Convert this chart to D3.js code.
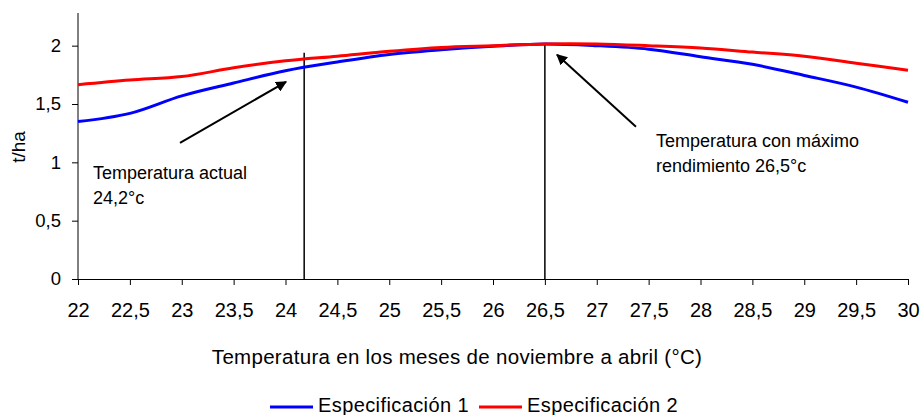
<!DOCTYPE html>
<html>
<head>
<meta charset="utf-8">
<script src="https://cdn.jsdelivr.net/npm/d3@7"></script>
<style>
  html, body { margin: 0; padding: 0; background: #fff; }
  svg { display: block; font-family: "Liberation Sans", Arial, sans-serif; }
</style>
</head>
<body>
<svg id="chart" width="924" height="415"></svg>
<script>
// ---- data ----
const temps = [22, 22.5, 23, 23.5, 24, 24.5, 25, 25.5, 26, 26.5, 27, 27.5, 28, 28.5, 29, 29.5, 30];
const spec1 = [1.35, 1.42, 1.57, 1.68, 1.785, 1.86, 1.925, 1.965, 1.995, 2.015, 2.0, 1.97, 1.905, 1.84, 1.745, 1.645, 1.515];
const spec2 = [1.665, 1.705, 1.735, 1.81, 1.87, 1.91, 1.952, 1.985, 2.0, 2.015, 2.015, 2.0, 1.98, 1.945, 1.91, 1.85, 1.79];
const seriesNames = ["Especificación 1", "Especificación 2"];
const seriesColors = ["#0000FF", "#FF0000"];
const yTicks = [0, 0.5, 1, 1.5, 2];
const xTicks = [22, 22.5, 23, 23.5, 24, 24.5, 25, 25.5, 26, 26.5, 27, 27.5, 28, 28.5, 29, 29.5, 30];
const refX = [24.18, 26.5];
const refTop = [1.94, 2.02];
const arrowFrom = [[22.983, 1.167], [27.378, 1.305]];
const arrowTo = [[24.005, 1.69], [26.617, 1.923]];
const noteLines = [["Temperatura actual", "24,2°c"], ["Temperatura con máximo", "rendimiento 26,5°c"]];
const notePos = [[22.145, 0.858], [27.571, 1.133]];
const xTitle = "Temperatura en los meses de noviembre a abril (°C)";
const yTitle = "t/ha";

// ---- layout ----
const svg = d3.select("#chart");
const x = d3.scaleLinear().domain([22, 30]).range([78, 908]);
const y = d3.scaleLinear().domain([0, 2.28]).range([279, 13]);
const fmt = d => String(d).replace(".", ",");

// axes
const xAxis = svg.append("g").attr("transform", `translate(0,${y(0)})`)
  .call(d3.axisBottom(x).tickValues(xTicks).tickSize(6).tickSizeOuter(0).tickFormat(fmt));
xAxis.selectAll("text").attr("y", 38).attr("dy", 0).attr("font-size", 20)
  .attr("fill", "#000").attr("font-family", "'Liberation Sans', Arial, sans-serif");
xAxis.selectAll("line,path").attr("stroke", "#000");

const yAxis = svg.append("g").attr("transform", `translate(${x(22)},0)`)
  .call(d3.axisLeft(y).tickValues(yTicks).tickSize(6).tickSizeOuter(0).tickFormat(fmt));
yAxis.select(".domain").attr("d", `M0,${y(0)}V${y.range()[1]}`);
yAxis.selectAll("text").attr("x", -17).attr("font-size", 18.5)
  .attr("fill", "#000").attr("font-family", "'Liberation Sans', Arial, sans-serif");
yAxis.selectAll("line,path").attr("stroke", "#000");

// reference vertical lines
svg.append("g").selectAll("line").data(refX).join("line")
  .attr("x1", d => x(d)).attr("x2", d => x(d))
  .attr("y1", y(0)).attr("y2", (d, i) => y(refTop[i]))
  .attr("stroke", "#000").attr("stroke-width", 1.5);

// series lines
const line = d3.line().x((d, i) => x(temps[i])).y(d => y(d)).curve(d3.curveCatmullRom.alpha(0.5));
svg.append("g").selectAll("path").data([spec1, spec2]).join("path")
  .attr("d", d => line(d)).attr("fill", "none")
  .attr("stroke", (d, i) => seriesColors[i]).attr("stroke-width", 3)
  .attr("stroke-linejoin", "round");

// arrows
svg.append("defs").append("marker").attr("id", "ah")
  .attr("viewBox", "0 0 10 10").attr("refX", 9).attr("refY", 5)
  .attr("markerWidth", 5.5).attr("markerHeight", 5.5).attr("orient", "auto")
  .append("path").attr("d", "M0,0L10,5L0,10z").attr("fill", "#000");
svg.append("g").selectAll("line").data(arrowFrom).join("line")
  .attr("x1", d => x(d[0])).attr("y1", d => y(d[1]))
  .attr("x2", (d, i) => x(arrowTo[i][0])).attr("y2", (d, i) => y(arrowTo[i][1]))
  .attr("stroke", "#000").attr("stroke-width", 2).attr("marker-end", "url(#ah)");

// annotation text
const notes = svg.append("g").selectAll("text").data(noteLines).join("text")
  .attr("x", (d, i) => x(notePos[i][0])).attr("y", (d, i) => y(notePos[i][1]))
  .attr("font-size", 18).attr("fill", "#000");
notes.selectAll("tspan").data((d, i) => d.map(t => ({t, i}))).join("tspan")
  .attr("x", d => x(notePos[d.i][0])).attr("dy", (d, j) => j === 0 ? 0 : 25.5)
  .text(d => d.t);

// axis titles
svg.append("text").attr("x", 457).attr("y", 364).attr("text-anchor", "middle")
  .attr("font-size", 20.5).attr("letter-spacing", 0.3).attr("fill", "#000").text(xTitle);
svg.append("text").attr("transform", "translate(25,147) rotate(-90)")
  .attr("text-anchor", "middle").attr("font-size", 19).attr("fill", "#000").text(yTitle);

// legend
const legX = [270, 479];
const leg = svg.append("g").selectAll("g").data(seriesNames).join("g")
  .attr("transform", (d, i) => `translate(${legX[i]},407)`);
leg.append("line").attr("x1", 0).attr("x2", 43).attr("y1", 0).attr("y2", 0)
  .attr("stroke", (d, i) => seriesColors[i]).attr("stroke-width", 3);
leg.append("text").attr("x", 48).attr("y", 5).attr("font-size", 20)
  .attr("letter-spacing", 0.4).attr("fill", "#000").text(d => d);
</script>
</body>
</html>
